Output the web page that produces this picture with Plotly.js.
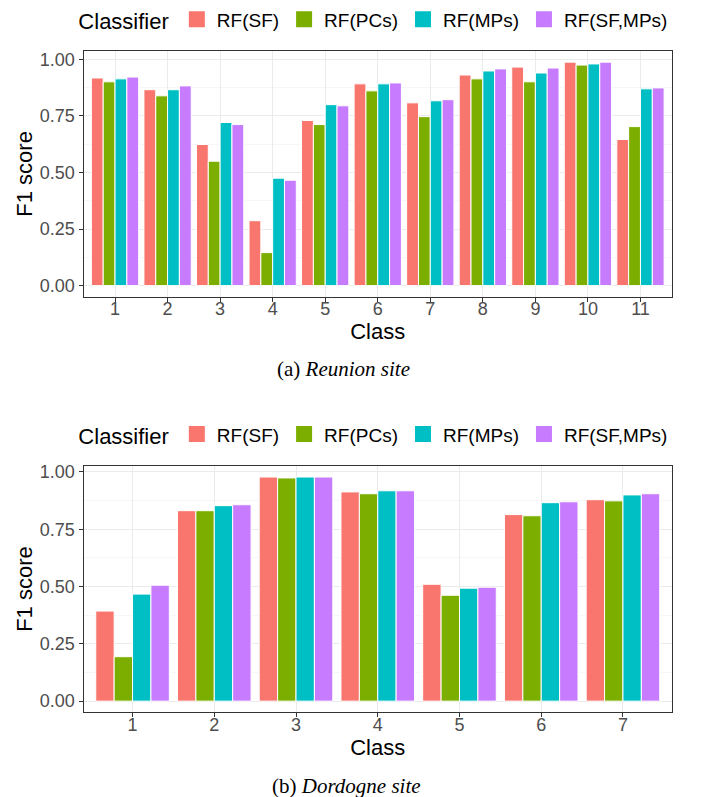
<!DOCTYPE html>
<html>
<head>
<meta charset="utf-8">
<script src="https://cdn.plot.ly/plotly-3.0.1.min.js"></script>
<style>html,body{margin:0;padding:0;background:#fff;}#chart{width:707px;height:797px;}</style>
</head>
<body>
<div id="chart"></div>
<script>
// ---- Data ----
const classifiers = ["RF(SF)", "RF(PCs)", "RF(MPs)", "RF(SF,MPs)"];
const colors = ["#F8766D", "#7CAE00", "#00BFC4", "#C77CFF"];

const reunionClasses = [1, 2, 3, 4, 5, 6, 7, 8, 9, 10, 11];
const reunionSF    = [0.918, 0.866, 0.624, 0.287, 0.730, 0.892, 0.808, 0.931, 0.966, 0.988, 0.646];
const reunionPCs   = [0.901, 0.839, 0.550, 0.146, 0.712, 0.861, 0.747, 0.914, 0.901, 0.975, 0.703];
const reunionMPs   = [0.914, 0.866, 0.721, 0.475, 0.800, 0.892, 0.817, 0.949, 0.940, 0.980, 0.870];
const reunionSFMPs = [0.922, 0.883, 0.712, 0.466, 0.795, 0.896, 0.822, 0.958, 0.962, 0.988, 0.874];

const dordogneClasses = [1, 2, 3, 4, 5, 6, 7];
const dordogneSF    = [0.393, 0.831, 0.978, 0.913, 0.510, 0.814, 0.879];
const dordognePCs   = [0.194, 0.831, 0.974, 0.905, 0.462, 0.809, 0.874];
const dordogneMPs   = [0.467, 0.853, 0.978, 0.918, 0.493, 0.866, 0.900];
const dordogneSFMPs = [0.506, 0.857, 0.978, 0.918, 0.497, 0.870, 0.905];

const yTickVals = [0, 0.25, 0.5, 0.75, 1];
const yTickText = ["0.00", "0.25", "0.50", "0.75", "1.00"];
const captionA = "(a) <i>Reunion site</i>";
const captionB = "(b) <i>Dordogne site</i>";

// ---- Traces ----
const reunionSeries = [reunionSF, reunionPCs, reunionMPs, reunionSFMPs];
const dordogneSeries = [dordogneSF, dordognePCs, dordogneMPs, dordogneSFMPs];
const traces = [];
reunionSeries.forEach((vals, i) => {
  traces.push({type: "bar", x: reunionClasses, y: vals, name: classifiers[i],
    marker: {color: colors[i], line: {color: "#ffffff", width: 1}},
    xaxis: "x", yaxis: "y", showlegend: false, hoverinfo: "x+y"});
});
dordogneSeries.forEach((vals, i) => {
  traces.push({type: "bar", x: dordogneClasses, y: vals, name: classifiers[i],
    marker: {color: colors[i], line: {color: "#ffffff", width: 1}},
    xaxis: "x2", yaxis: "y2", showlegend: false, hoverinfo: "x+y"});
});
// legend entries
classifiers.forEach((c, i) => {
  traces.push({type: "scatter", mode: "markers", x: [null], y: [null], name: c,
    marker: {symbol: "square", size: 19, color: colors[i]}, xaxis: "x", yaxis: "y", legend: "legend"});
  traces.push({type: "scatter", mode: "markers", x: [null], y: [null], name: c,
    marker: {symbol: "square", size: 19, color: colors[i]}, xaxis: "x2", yaxis: "y2", legend: "legend2"});
});

const font = "Liberation Sans, Arial, sans-serif";
const xDom = [83.5/707, 672/707];
function yaxis(dom, maxv) {
  return {
    domain: dom, range: [-0.05*maxv, 1.05*maxv], tickvals: yTickVals, ticktext: yTickText,
    ticks: "outside", ticklen: 4, tickcolor: "#333333", tickwidth: 1,
    tickfont: {family: font, size: 18, color: "#4D4D4D"},
    showgrid: true, gridcolor: "#EBEBEB", gridwidth: 1,
    minor: {dtick: 0.125, tick0: 0.125, showgrid: true, gridcolor: "#F2F2F2", gridwidth: 0.6, ticks: ""},
    showline: true, linecolor: "#333333", linewidth: 1, mirror: true, zeroline: false,
    title: {text: "F1 score", font: {family: font, size: 22, color: "#000"}, standoff: 1},
    automargin: false, fixedrange: true
  };
}
function xaxis(n, anchor) {
  const tv = []; for (let i = 1; i <= n; i++) tv.push(i);
  return {
    domain: xDom, anchor: anchor, range: [0.4, n + 0.6], tickvals: tv,
    ticks: "outside", ticklen: 4, tickcolor: "#333333", tickwidth: 1,
    tickfont: {family: font, size: 18, color: "#4D4D4D"}, ticklabelstandoff: -8,
    showgrid: true, gridcolor: "#EBEBEB", gridwidth: 1,
    showline: true, linecolor: "#333333", linewidth: 1, mirror: true, zeroline: false,
    title: {text: "Class", font: {family: font, size: 22, color: "#000"}, standoff: 0},
    automargin: false, fixedrange: true
  };
}
const maxA = Math.max(...reunionSF, ...reunionPCs, ...reunionMPs, ...reunionSFMPs);
const maxB = Math.max(...dordogneSF, ...dordognePCs, ...dordogneMPs, ...dordogneSFMPs);

const legendBase = {
  orientation: "h", xanchor: "left", yanchor: "middle", x: 0.108,
  font: {family: font, size: 19, color: "#000"},
  title: {text: "Classifier", font: {family: font, size: 22, color: "#000"}, side: "left"},
  bgcolor: "rgba(0,0,0,0)", itemclick: false, itemdoubleclick: false, tracegroupgap: 0
};

const layout = {
  width: 707, height: 797,
  margin: {l: 0, r: 0, t: 0, b: 0},
  paper_bgcolor: "#ffffff", plot_bgcolor: "#ffffff",
  barmode: "group", bargap: 0.1, bargroupgap: 0,
  xaxis: xaxis(11, "y"),
  yaxis: yaxis([(797-293)/797, (797-45.3)/797], maxA),
  xaxis2: xaxis(7, "y2"),
  yaxis2: yaxis([(797-711.7)/797, (797-463.3)/797], maxB),
  legend: Object.assign({}, legendBase, {y: (797-14)/797}),
  legend2: Object.assign({}, legendBase, {y: (797-432)/797}),
  annotations: [
    {text: captionA, xref: "paper", yref: "paper", x: 343/707, y: (797-366)/797, xanchor: "center", yanchor: "middle",
     showarrow: false, font: {family: "Liberation Serif, Times New Roman, serif", size: 21, color: "#000"}},
    {text: captionB, xref: "paper", yref: "paper", x: 346/707, y: (797-786)/797, xanchor: "center", yanchor: "middle",
     showarrow: false, font: {family: "Liberation Serif, Times New Roman, serif", size: 21, color: "#000"}}
  ]
};
Plotly.newPlot("chart", traces, layout, {displayModeBar: false, staticPlot: true});
</script>
</body>
</html>
